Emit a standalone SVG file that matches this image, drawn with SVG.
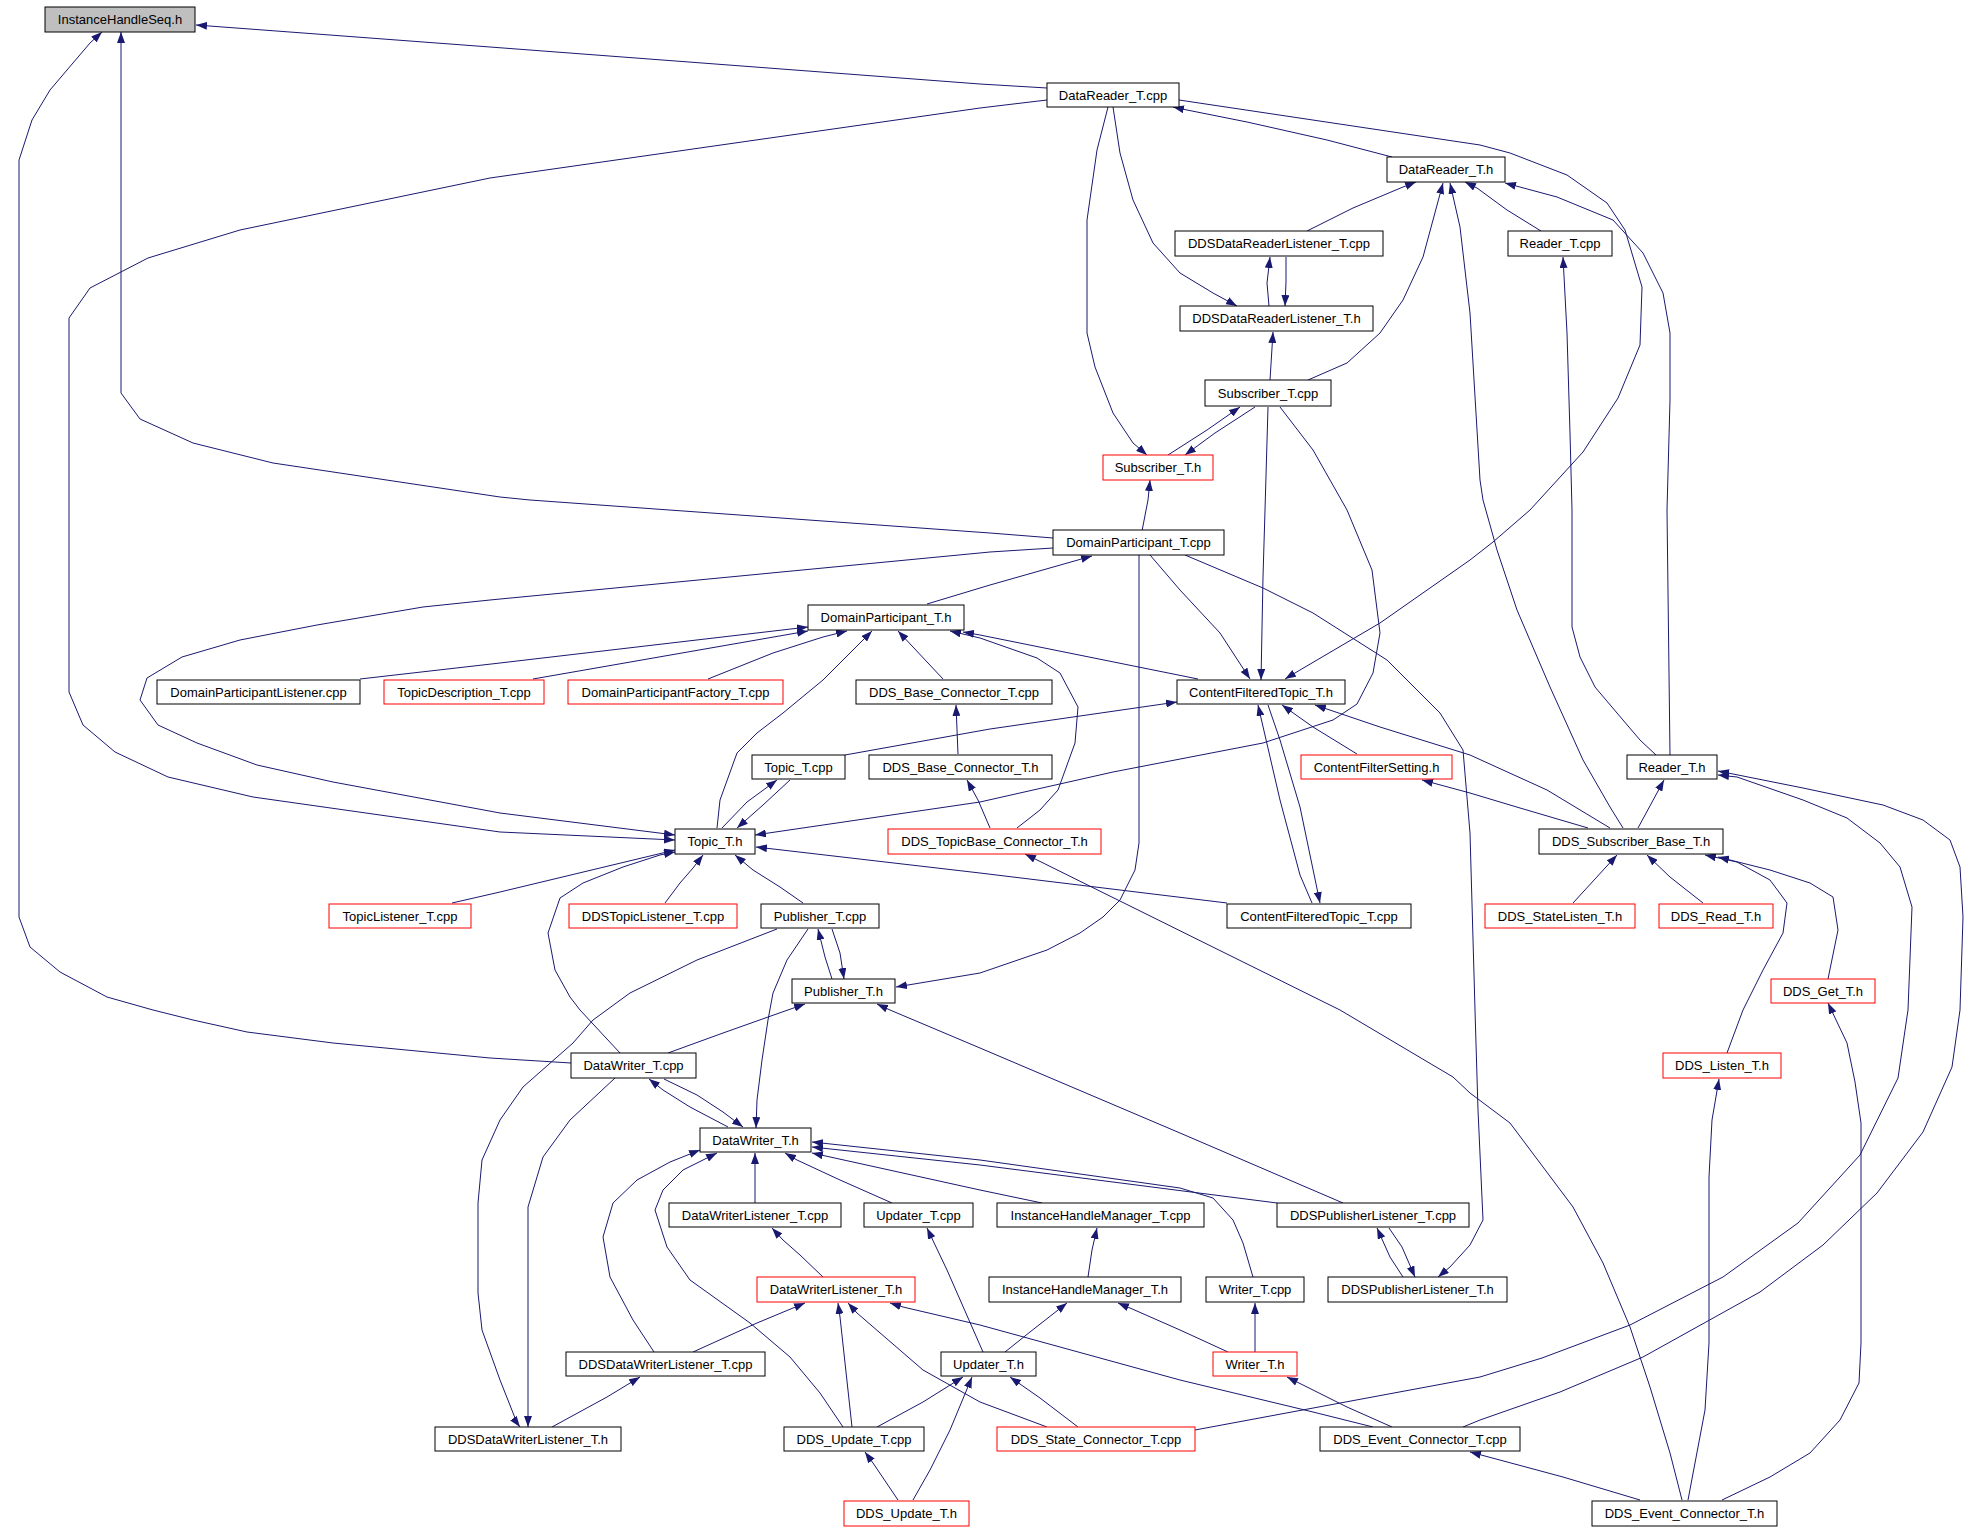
<svg xmlns="http://www.w3.org/2000/svg" width="1981" height="1531" viewBox="0 0 1981 1531">
<style>
rect{fill:#fff;stroke:#000;stroke-width:1}
.r rect{stroke:#f00}
.g rect{fill:#bfbfbf}
text{font-family:"Liberation Sans",Arial,sans-serif;font-size:13px;fill:#000;text-anchor:middle}
#edges path{fill:none;stroke:#191970;stroke-width:1;marker-end:url(#a)}
</style>
<defs>
<marker id="a" viewBox="0 0 11 8" refX="11" refY="4" markerWidth="11" markerHeight="8" markerUnits="userSpaceOnUse" orient="auto"><path d="M0,0 L11,4 L0,8 z" fill="#191970"/></marker>
</defs>
<rect x="0" y="0" width="1981" height="1531" style="stroke:none"/>
<g id="edges">
<path d="M1047,88 L980,84 L490,47 L196,25"/>
<path d="M1047,100 L980,108 L490,178 L240,230 L148,258 L90,288 L69,318 L69,692 L83,725 L115,752 L168,777 L253,797 L500,832 L675,840"/>
<path d="M1053,538 L990,533 L530,500 L500,497 L273,463 L193,443 L140,419 L121,393 L121,32"/>
<path d="M571,1063 L490,1058 L333,1043 L247,1032 L193,1020 L153,1010 L107,997 L60,972 L30,947 L19,917 L19,160 L32,120 L50,90 L90,43 L102,32"/>
<path d="M1392,157 L1327,140 L1247,122 L1187,110 L1173,107"/>
<path d="M1113,107 L1120,153 L1133,200 L1153,243 L1180,273 L1213,293 L1237,306"/>
<path d="M1108,107 L1097,150 L1087,220 L1087,333 L1095,367 L1113,413 L1133,443 L1147,455"/>
<path d="M1179,100 L1480,145 L1510,153 L1567,175 L1607,203 L1625,230 L1642,287 L1640,345 L1618,398 L1583,452 L1530,510 L1493,542 L1470,560 L1380,623 L1300,670 L1285,679"/>
<path d="M1307,231 L1353,208 L1403,187 L1416,182"/>
<path d="M1269,306 L1267,283 L1270,257"/>
<path d="M1286,257 L1286,282 L1285,306"/>
<path d="M1541,231 L1507,210 L1477,188 L1465,182"/>
<path d="M1270,380 L1273,332"/>
<path d="M1308,380 L1347,363 L1380,333 L1403,300 L1423,257 L1443,183"/>
<path d="M1168,455 L1207,430 L1240,407"/>
<path d="M1255,407 L1215,433 L1185,455"/>
<path d="M1142,531 L1148,500 L1150,480"/>
<path d="M1268,407 L1265,510 L1263,577 L1261,680"/>
<path d="M1280,407 L1313,450 L1347,510 L1372,570 L1380,633 L1373,673 L1357,704 L1333,720 L1263,743 L1113,772 L980,802 L755,835"/>
<path d="M927,604 L990,585 L1092,556"/>
<path d="M1150,555 L1180,590 L1220,633 L1250,679"/>
<path d="M1139,555 L1139,843 L1135,870 L1120,900 L1103,917 L1080,933 L1047,950 L980,973 L896,987"/>
<path d="M1185,555 L1263,588 L1313,613 L1387,660 L1440,713 L1463,750 L1470,833 L1475,1010 L1478,1110 L1483,1220 L1470,1245 L1450,1267 L1438,1277"/>
<path d="M360,679 L500,663 L808,627"/>
<path d="M533,679 L808,631"/>
<path d="M708,679 L773,653 L823,637 L847,631"/>
<path d="M717,828 L720,800 L737,753 L757,733 L783,713 L823,680 L872,631"/>
<path d="M943,679 L913,647 L898,631"/>
<path d="M1017,828 L1040,810 L1058,790 L1075,743 L1078,707 L1060,673 L1037,658 L980,638 L950,631"/>
<path d="M1198,679 L980,635 L963,632"/>
<path d="M1053,548 L990,552 L490,600 L423,607 L317,625 L240,640 L182,657 L147,678 L140,700 L158,725 L197,743 L257,765 L333,782 L500,813 L675,835"/>
<path d="M845,755 L990,729 L1177,702"/>
<path d="M958,754 L956,705"/>
<path d="M722,828 L747,802 L777,780"/>
<path d="M790,780 L763,805 L737,828"/>
<path d="M990,828 L978,800 L967,780"/>
<path d="M1357,754 L1313,727 L1282,705"/>
<path d="M1610,828 L1547,790 L1470,755 L1380,727 L1315,705"/>
<path d="M1588,828 L1520,808 L1470,793 L1422,780"/>
<path d="M1312,903 L1300,875 L1280,800 L1258,705"/>
<path d="M1268,705 L1280,740 L1300,807 L1320,903"/>
<path d="M1227,903 L980,873 L756,847"/>
<path d="M1682,1500 L1670,1453 L1650,1387 L1630,1327 L1603,1263 L1573,1207 L1543,1167 L1510,1123 L1470,1093 L1453,1077 L1340,1010 L1025,854"/>
<path d="M1670,755 L1667,510 L1670,400 L1670,333 L1663,293 L1643,253 L1613,220 L1557,197 L1505,183"/>
<path d="M1656,755 L1640,740 L1617,713 L1595,687 L1580,657 L1572,627 L1572,510 L1570,433 L1567,333 L1563,257"/>
<path d="M1623,828 L1610,807 L1583,760 L1550,687 L1517,610 L1497,550 L1483,500 L1480,480 L1470,313 L1460,227 L1450,183"/>
<path d="M1638,828 L1664,780"/>
<path d="M1573,903 L1617,855"/>
<path d="M1703,903 L1670,877 L1647,855"/>
<path d="M1727,1053 L1743,1010 L1763,970 L1783,933 L1787,903 L1770,880 L1737,862 L1705,855"/>
<path d="M1828,979 L1838,930 L1833,897 L1810,883 L1770,870 L1718,857"/>
<path d="M1195,1430 L1480,1377 L1542,1358 L1630,1325 L1723,1277 L1798,1223 L1860,1155 L1898,1078 L1908,1010 L1912,907 L1900,867 L1880,843 L1847,818 L1803,800 L1737,777 L1718,775"/>
<path d="M1463,1427 L1480,1420 L1560,1392 L1643,1357 L1760,1292 L1823,1245 L1877,1193 L1923,1132 L1952,1067 L1960,1010 L1963,917 L1960,867 L1950,840 L1923,820 L1883,805 L1803,788 L1718,771"/>
<path d="M1688,1500 L1705,1410 L1709,1343 L1709,1177 L1712,1120 L1719,1079"/>
<path d="M1722,1500 L1770,1477 L1810,1453 L1840,1420 L1859,1383 L1861,1343 L1861,1123 L1855,1082 L1847,1043 L1828,1003"/>
<path d="M1640,1500 L1563,1477 L1470,1452"/>
<path d="M452,903 L500,892 L675,850"/>
<path d="M620,1053 L580,1010 L570,997 L555,970 L548,933 L560,898 L583,883 L623,867 L660,855 L675,852"/>
<path d="M665,903 L680,883 L693,868 L703,855"/>
<path d="M803,903 L780,887 L753,870 L735,855"/>
<path d="M832,979 L825,957 L818,929"/>
<path d="M832,929 L840,953 L844,979"/>
<path d="M777,929 L697,960 L630,993 L593,1020 L573,1043 L523,1087 L500,1120 L482,1160 L478,1203 L478,1293 L482,1330 L500,1380 L517,1423 L520,1427"/>
<path d="M615,1078 L570,1120 L543,1157 L528,1207 L528,1427"/>
<path d="M808,929 L787,960 L773,993 L768,1020 L762,1060 L757,1100 L756,1128"/>
<path d="M668,1053 L723,1033 L785,1011 L805,1004"/>
<path d="M1343,1203 L1180,1133 L980,1048 L890,1010 L877,1004"/>
<path d="M728,1127 L690,1107 L663,1090 L649,1079"/>
<path d="M664,1079 L697,1095 L723,1112 L743,1127"/>
<path d="M755,1203 L755,1153"/>
<path d="M892,1203 L840,1180 L797,1160 L785,1153"/>
<path d="M1042,1203 L980,1190 L812,1153"/>
<path d="M1277,1203 L980,1165 L812,1147"/>
<path d="M1253,1277 L1243,1243 L1233,1220 L1213,1198 L1180,1188 L980,1160 L812,1142"/>
<path d="M654,1352 L633,1320 L610,1277 L603,1237 L613,1203 L637,1180 L670,1162 L700,1150"/>
<path d="M843,1427 L820,1393 L790,1357 L750,1323 L690,1280 L667,1247 L655,1210 L663,1190 L683,1170 L717,1153"/>
<path d="M823,1277 L800,1255 L783,1240 L772,1228"/>
<path d="M983,1352 L947,1270 L927,1228"/>
<path d="M1088,1277 L1092,1250 L1097,1228"/>
<path d="M1403,1277 L1390,1257 L1377,1228"/>
<path d="M1389,1228 L1402,1247 L1415,1277"/>
<path d="M1005,1352 L1030,1332 L1067,1303"/>
<path d="M1228,1352 L1180,1330 L1130,1308 L1118,1303"/>
<path d="M1255,1352 L1255,1303"/>
<path d="M693,1352 L757,1323 L805,1303"/>
<path d="M852,1427 L840,1317 L838,1303"/>
<path d="M1047,1427 L980,1402 L923,1370 L857,1313 L848,1303"/>
<path d="M1373,1427 L1313,1412 L1180,1380 L980,1325 L903,1307 L890,1303"/>
<path d="M877,1427 L923,1402 L963,1377"/>
<path d="M913,1500 L930,1470 L950,1430 L972,1377"/>
<path d="M898,1500 L873,1463 L865,1452"/>
<path d="M1078,1427 L1040,1398 L1010,1377"/>
<path d="M1392,1427 L1347,1407 L1287,1377"/>
<path d="M552,1427 L607,1397 L640,1377"/>
</g>
<g id="n1" class="g"><rect x="45" y="7" width="150" height="25"/><text x="120" y="24">InstanceHandleSeq.h</text></g>
<g id="n2"><rect x="1047" y="83" width="132" height="24"/><text x="1113" y="99.5">DataReader_T.cpp</text></g>
<g id="n3"><rect x="1387" y="157" width="118" height="25"/><text x="1446" y="174">DataReader_T.h</text></g>
<g id="n4"><rect x="1175" y="231" width="208" height="25"/><text x="1279" y="248">DDSDataReaderListener_T.cpp</text></g>
<g id="n5"><rect x="1508" y="231" width="104" height="25"/><text x="1560" y="248">Reader_T.cpp</text></g>
<g id="n6"><rect x="1180" y="306" width="193" height="25"/><text x="1276.5" y="323">DDSDataReaderListener_T.h</text></g>
<g id="n7"><rect x="1205" y="380" width="126" height="26"/><text x="1268" y="397.5">Subscriber_T.cpp</text></g>
<g id="n8" class="r"><rect x="1103" y="455" width="110" height="25"/><text x="1158" y="472">Subscriber_T.h</text></g>
<g id="n9"><rect x="1053" y="530" width="171" height="25"/><text x="1138.5" y="547">DomainParticipant_T.cpp</text></g>
<g id="n10"><rect x="808" y="605" width="156" height="25"/><text x="886" y="622">DomainParticipant_T.h</text></g>
<g id="n11"><rect x="157" y="680" width="203" height="24"/><text x="258.5" y="696.5">DomainParticipantListener.cpp</text></g>
<g id="n12" class="r"><rect x="384" y="680" width="160" height="24"/><text x="464" y="696.5">TopicDescription_T.cpp</text></g>
<g id="n13" class="r"><rect x="568" y="680" width="215" height="24"/><text x="675.5" y="696.5">DomainParticipantFactory_T.cpp</text></g>
<g id="n14"><rect x="856" y="680" width="196" height="24"/><text x="954" y="696.5">DDS_Base_Connector_T.cpp</text></g>
<g id="n15"><rect x="1177" y="680" width="168" height="24"/><text x="1261" y="696.5">ContentFilteredTopic_T.h</text></g>
<g id="n16"><rect x="752" y="755" width="93" height="24"/><text x="798.5" y="771.5">Topic_T.cpp</text></g>
<g id="n17"><rect x="869" y="755" width="183" height="24"/><text x="960.5" y="771.5">DDS_Base_Connector_T.h</text></g>
<g id="n18" class="r"><rect x="1301" y="755" width="151" height="24"/><text x="1376.5" y="771.5">ContentFilterSetting.h</text></g>
<g id="n19"><rect x="1627" y="755" width="90" height="24"/><text x="1672" y="771.5">Reader_T.h</text></g>
<g id="n20"><rect x="675" y="829" width="80" height="25"/><text x="715" y="846">Topic_T.h</text></g>
<g id="n21" class="r"><rect x="888" y="829" width="213" height="25"/><text x="994.5" y="846">DDS_TopicBase_Connector_T.h</text></g>
<g id="n22"><rect x="1539" y="829" width="184" height="25"/><text x="1631" y="846">DDS_Subscriber_Base_T.h</text></g>
<g id="n23" class="r"><rect x="329" y="904" width="142" height="24"/><text x="400" y="920.5">TopicListener_T.cpp</text></g>
<g id="n24" class="r"><rect x="569" y="904" width="168" height="24"/><text x="653" y="920.5">DDSTopicListener_T.cpp</text></g>
<g id="n25"><rect x="761" y="904" width="118" height="24"/><text x="820" y="920.5">Publisher_T.cpp</text></g>
<g id="n26"><rect x="1227" y="904" width="184" height="24"/><text x="1319" y="920.5">ContentFilteredTopic_T.cpp</text></g>
<g id="n27" class="r"><rect x="1485" y="904" width="150" height="24"/><text x="1560" y="920.5">DDS_StateListen_T.h</text></g>
<g id="n28" class="r"><rect x="1659" y="904" width="114" height="24"/><text x="1716" y="920.5">DDS_Read_T.h</text></g>
<g id="n29"><rect x="792" y="979" width="103" height="24"/><text x="843.5" y="995.5">Publisher_T.h</text></g>
<g id="n30" class="r"><rect x="1771" y="979" width="104" height="24"/><text x="1823" y="995.5">DDS_Get_T.h</text></g>
<g id="n31"><rect x="571" y="1053" width="125" height="25"/><text x="633.5" y="1070">DataWriter_T.cpp</text></g>
<g id="n32" class="r"><rect x="1663" y="1053" width="118" height="25"/><text x="1722" y="1070">DDS_Listen_T.h</text></g>
<g id="n33"><rect x="700" y="1128" width="111" height="24"/><text x="755.5" y="1144.5">DataWriter_T.h</text></g>
<g id="n34"><rect x="669" y="1203" width="172" height="24"/><text x="755" y="1219.5">DataWriterListener_T.cpp</text></g>
<g id="n35"><rect x="864" y="1203" width="109" height="24"/><text x="918.5" y="1219.5">Updater_T.cpp</text></g>
<g id="n36"><rect x="997" y="1203" width="207" height="24"/><text x="1100.5" y="1219.5">InstanceHandleManager_T.cpp</text></g>
<g id="n37"><rect x="1277" y="1203" width="192" height="24"/><text x="1373" y="1219.5">DDSPublisherListener_T.cpp</text></g>
<g id="n38" class="r"><rect x="757" y="1277" width="158" height="25"/><text x="836" y="1294">DataWriterListener_T.h</text></g>
<g id="n39"><rect x="989" y="1277" width="192" height="25"/><text x="1085" y="1294">InstanceHandleManager_T.h</text></g>
<g id="n40"><rect x="1206" y="1277" width="98" height="25"/><text x="1255" y="1294">Writer_T.cpp</text></g>
<g id="n41"><rect x="1328" y="1277" width="179" height="25"/><text x="1417.5" y="1294">DDSPublisherListener_T.h</text></g>
<g id="n42"><rect x="566" y="1352" width="199" height="24"/><text x="665.5" y="1368.5">DDSDataWriterListener_T.cpp</text></g>
<g id="n43"><rect x="941" y="1352" width="95" height="24"/><text x="988.5" y="1368.5">Updater_T.h</text></g>
<g id="n44" class="r"><rect x="1213" y="1352" width="84" height="24"/><text x="1255" y="1368.5">Writer_T.h</text></g>
<g id="n45"><rect x="435" y="1427" width="186" height="24"/><text x="528" y="1443.5">DDSDataWriterListener_T.h</text></g>
<g id="n46"><rect x="784" y="1427" width="140" height="24"/><text x="854" y="1443.5">DDS_Update_T.cpp</text></g>
<g id="n47" class="r"><rect x="997" y="1427" width="198" height="24"/><text x="1096" y="1443.5">DDS_State_Connector_T.cpp</text></g>
<g id="n48"><rect x="1320" y="1427" width="200" height="24"/><text x="1420" y="1443.5">DDS_Event_Connector_T.cpp</text></g>
<g id="n49" class="r"><rect x="844" y="1501" width="125" height="25"/><text x="906.5" y="1518">DDS_Update_T.h</text></g>
<g id="n50"><rect x="1592" y="1501" width="185" height="25"/><text x="1684.5" y="1518">DDS_Event_Connector_T.h</text></g>
</svg>
